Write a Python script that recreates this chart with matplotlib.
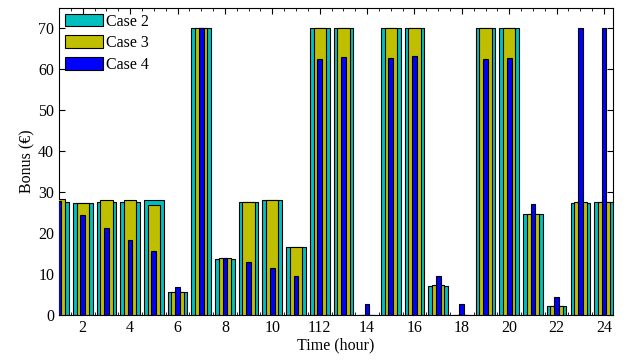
import matplotlib.pyplot as plt
from matplotlib.ticker import MultipleLocator

plt.rcParams['font.family'] = ['Liberation Serif', 'DejaVu Serif']

# Bonus per hour for each case
hours = list(range(1, 25))
case2 = [27.6, 27.3, 27.6, 27.7, 28.1, 5.6, 70, 13.7, 27.6, 28.0, 16.6, 70,
         70, 0, 70, 70, 7.2, 0, 70, 70, 24.6, 2.1, 27.3, 27.6]
case3 = [28.3, 27.3, 28.0, 28.2, 26.8, 5.7, 70, 13.9, 27.6, 28.1, 16.6, 70,
         70, 0, 70, 70, 7.3, 0, 70, 70, 24.6, 2.2, 27.6, 27.7]
case4 = [27.9, 24.5, 21.3, 18.3, 15.7, 6.9, 70, 13.9, 12.9, 11.4, 9.5, 62.6,
         63.1, 2.6, 62.7, 63.2, 9.6, 2.6, 62.6, 62.9, 27.2, 4.5, 70, 70]
xtick_pos = list(range(2, 25, 2))
xtick_labels = ['2', '4', '6', '8', '10', '112', '14', '16', '18', '20', '22', '24']

fig = plt.figure(figsize=(6.32, 3.64), dpi=100)
ax = fig.add_axes([0.0934, 0.1346, 0.8766, 0.8434])

edge = dict(edgecolor='black', linewidth=0.8)
ax.bar(hours, case2, width=0.83, color='#00BFBF', label='Case 2', zorder=2, **edge)
ax.bar(hours, case3, width=0.52, color='#BFBF00', label='Case 3', zorder=3, **edge)
ax.bar(hours, case4, width=0.2, color='#0000FF', label='Case 4', zorder=4, **edge)

ax.set_xlim(1, 24.38)
ax.set_ylim(0, 75)
ax.set_xticks(xtick_pos)
ax.set_xticklabels(xtick_labels)
ax.xaxis.set_minor_locator(MultipleLocator(0.5))
ax.set_yticks(range(0, 71, 10))
ax.tick_params(axis='both', which='both', direction='in', top=True, right=True,
               labelsize=11.5)
ax.tick_params(which='major', length=4)
ax.tick_params(which='minor', length=2)

ax.set_xlabel('Time (hour)', fontsize=11.5, labelpad=1)
ax.set_ylabel('Bonus (€)', fontsize=11.5, labelpad=2)

ax.legend(loc='upper left', frameon=False, fontsize=11.5, handlelength=2.4,
          handleheight=0.85, handletextpad=0.2, labelspacing=0.35,
          borderaxespad=0.15, borderpad=0.2)

plt.savefig('out.png', dpi=100)
plt.close()
